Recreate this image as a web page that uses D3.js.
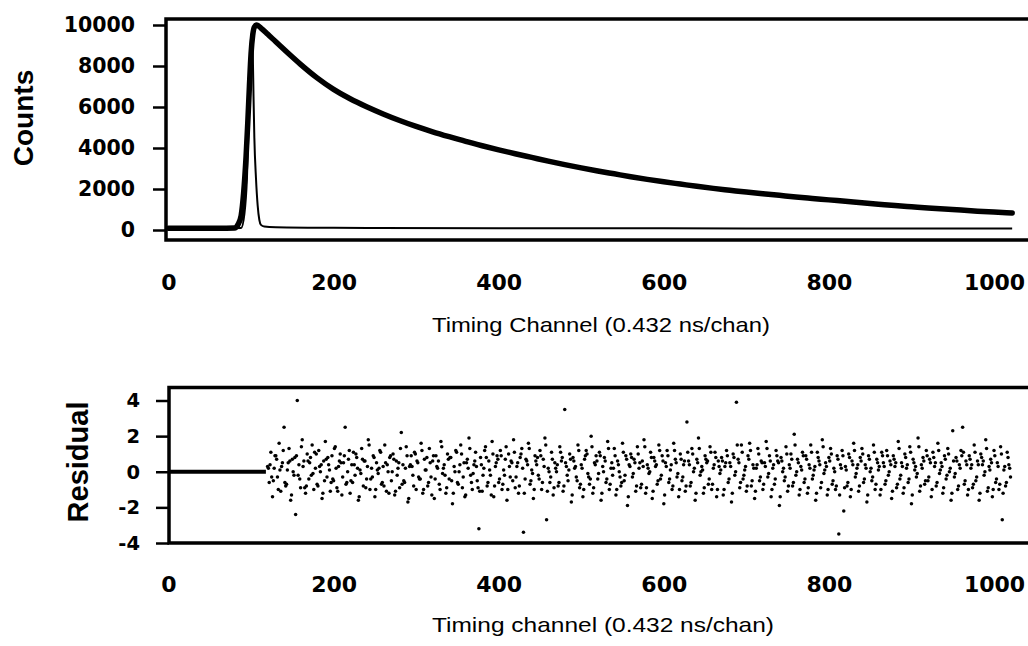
<!DOCTYPE html>
<html>
<head>
<meta charset="utf-8">
<script src="https://cdn.jsdelivr.net/npm/d3@7"></script>
<style>
  body { margin: 0; background: #fff; }
  svg { display: block; }
</style>
</head>
<body>
<div id="chart"></div>
<script>
// Fluorescence decay, counts per timing channel
var decayChannels = [0, 20, 40, 60, 80, 84, 88, 91, 94, 96, 98, 100, 102, 104, 107, 112, 120, 130, 145, 160,
  180, 200, 220, 240, 260, 280, 300, 320, 340, 360, 380, 400, 420, 440, 460, 480, 500, 520, 540, 560,
  580, 600, 620, 640, 660, 680, 700, 720, 740, 760, 780, 800, 820, 840, 860, 880, 900, 920, 940, 960,
  980, 1000, 1022];
var decayCounts = [80, 80, 80, 80, 100, 250, 700, 1800, 3600, 5200, 7000, 8600, 9500, 9900, 10000, 9850, 9560, 9180, 8620, 8080,
  7420, 6860, 6400, 6010, 5660, 5340, 5050, 4790, 4550, 4320, 4110, 3910, 3720, 3540, 3360, 3190, 3030, 2880, 2740, 2600,
  2470, 2350, 2240, 2130, 2030, 1940, 1850, 1770, 1690, 1610, 1540, 1470, 1400, 1330, 1260, 1190, 1130, 1070, 1020, 970,
  920, 875, 830];

// Instrument response (thin trace)
var irfChannels = [0, 88, 92, 95, 97, 99, 100, 101, 102, 103, 104, 106, 108, 110, 112, 116, 130, 200, 400, 600, 800, 1022];
var irfCounts = [20, 100, 800, 2500, 5000, 8000, 9400, 9600, 8800, 6500, 4500, 2500, 1200, 500, 250, 170, 140, 110, 90, 80, 75, 70];

var countTicks = [0, 2000, 4000, 6000, 8000, 10000];
var channelTicks = [0, 200, 400, 600, 800, 1000];
var residualTicks = [-4, -2, 0, 2, 4];

// Weighted residuals on even channels, starting at channel 120
var residualStart = 120;
var residuals = [
  0.3, -0.6, 1.1, -1.4, 0.2, 0.9, -0.3, 1.6, -1.1, 0.5, 2.5, -0.8, 0.1, 1.3, -1.6, 0.7, -0.2, -2.4, 4.0, 0.4, -0.9, 1.8, 0.6, -1.2, 1.0,
  -0.4, 0.8, 1.5, -1.0, 0.2, -0.7, 1.2, 0.0, -1.5, 0.6, 1.7, -0.3, 0.4, -1.1, 0.9, -0.5, 1.4, -0.9, 0.3, 1.0, -1.3, 0.5, 2.5, -0.6, 0.7,
  -1.2, 0.4, 1.1, -0.2, 0.8, -1.6, 0.1, 1.3, -0.8, 0.6, -0.4, 1.8, -1.0, 0.2, 0.9, -1.4, 0.5, -0.1, 1.2, -0.7, 0.3, 1.5, -1.1, 0.0, 0.8,
  -0.5, 1.0, -1.3, 0.6, 0.2, -0.9, 2.2, 0.4, -0.6, 1.4, -1.7, 0.3, 0.9, -0.2, 1.1, -1.0, 0.5, -0.4, 1.6, -1.2, 0.7, 0.1, -0.8, 1.3, -0.3,
  0.6, -1.5, 0.9, 0.2, -0.7, 1.7, -0.1, 0.4, -1.2, 1.0, -0.4, 0.8, -1.8, 0.3, 1.2, -0.6, 0.0, 1.5, -0.9, 0.5, -1.3, 0.7, 1.9, -0.2, -1.0,
  0.4, 1.1, -0.5, -3.2, 0.8, -1.1, 0.2, 1.4, -0.8, 0.6, -0.2, 1.7, -1.4, 0.3, 0.9, -0.6, 1.2, -1.0, 0.1, 0.7, -1.6, 1.0, -0.3, 0.5, 1.8,
  -0.9, 0.3, -1.2, 0.8, 1.3, -3.4, -0.4, 0.6, 1.6, -0.7, 0.1, -1.5, 0.9, 0.4, -0.2, 1.2, -1.0, 0.7, 1.9, -2.7, 0.2, -0.6, 1.1, -1.3, 0.5,
  0.0, -0.8, 1.4, 0.6, -1.1, 3.5, 0.3, -0.5, 1.0, -1.7, 0.8, 0.2, -0.3, 1.5, -0.9, 0.4, -1.4, 0.7, 1.2, -0.1, -0.7, 2.0, -1.2, 0.5, 0.9,
  -0.4, 1.1, -1.6, 0.3, 0.8, -0.6, 1.7, -1.0, 0.2, -0.2, 1.3, -1.3, 0.6, 0.0, -0.8, 1.6, -0.5, 0.9, -1.9, 0.4, 1.0, -0.3, 0.7, -1.1, 1.4,
  0.2, -0.9, 0.6, 1.8, -1.2, 0.4, -0.1, 1.1, -1.5, 0.8, 0.3, -0.7, 1.5, -0.4, 0.9, -1.8, 0.5, 1.2, -0.6, 0.1, -1.0, 1.6, 0.7, -0.3, -1.4,
  1.0, -0.5, 0.4, -1.1, 2.8, 0.6, -0.8, 1.3, 0.0, -1.6, 0.7, 1.9, -0.2, 0.3, -1.2, 0.9, 0.5, -0.7, 1.4, -1.0, 0.2, 1.1, -1.4, 0.6, -0.1,
  0.8, -1.3, 0.3, 1.2, -0.6, 0.5, -1.7, 1.0, -0.2, 3.9, 0.7, -0.9, 1.5, -0.4, 0.1, -1.1, 0.9, 1.6, -0.8, 0.4, -1.5, 0.2, 1.3, -0.5, 0.6,
  -1.0, 0.5, 1.7, -0.3, 0.9, -1.4, 0.2, -0.7, 1.2, 0.6, -1.9, 0.8, 0.0, -0.5, 1.4, -1.1, 0.4, 1.0, -0.8, 2.1, -0.2, 0.7, -1.3, 0.3, 1.1,
  -0.6, 0.9, -1.2, 0.4, 1.5, -0.4, 0.1, -1.6, 1.1, 0.6, -0.9, 1.8, -0.1, 0.5, -1.3, 0.8, 1.3, -0.7, 0.2, -1.0, 0.9, -3.5, 0.4, 1.2, -2.2,
  0.3, -0.8, 1.0, -1.4, 0.6, 1.6, -0.3, 0.2, -1.1, 0.8, 1.3, -0.6, 0.4, -1.7, 0.9, 0.0, -0.5, 1.5, -1.0, 0.7, 0.1, -1.3, 1.1, 0.5, -0.7,
  1.2, -0.2, 0.6, -1.5, 0.9, 0.3, -0.9, 1.7, -0.4, 0.5, -1.2, 1.0, 0.2, -0.6, 1.4, -1.8, 0.7, 0.1, -0.3, 1.9, -1.1, 0.4, 0.8, -0.7, 1.2,
  -0.5, 0.7, -1.4, 1.1, 0.3, -0.8, 1.6, -0.1, 0.5, -1.2, 0.9, -0.4, 1.3, 0.0, -1.6, 2.3, -0.3, 0.8, -1.0, 0.4, 1.2, 2.5, -0.7, 0.6, -1.3,
  0.9, 0.2, -0.9, 1.5, -0.5, 0.6, -1.6, 1.0, 0.4, -0.2, 1.8, -1.1, 0.3, 0.7, -1.4, 1.2, -0.6, 0.5, -1.0, 1.4, -2.7, 0.1, -0.8, 1.1, 0.4,
  -0.3
];
// Weighted residuals on odd channels, starting at channel 121
var residualsOdd = [
  0.2, 0.4, -0.3, -0.5, 0.9, 0.7, -1.0, 0.1, 0.3, 1.2, -0.6, -0.7, 0.5, 0.6, -1.3, 0.0, 0.8, 0.9, -0.2, -0.4, 1.4, 0.3, -0.9, -0.8, 0.6,
  0.5, -0.2, -0.1, 1.1, 1.0, -0.8, 0.3, 0.4, -1.2, -0.5, 0.7, 0.8, 0.1, -0.6, -0.4, 1.3, 0.2, -1.1, 0.6, 0.5, -0.3, 0.9, -0.7, 0.0, 1.2,
  -0.5, -0.6, 0.4, 1.0, 0.2, -1.4, -0.1, 0.7, 0.6, -0.9, 0.3, 1.5, -0.4, -0.3, 0.8, -1.0, 0.1, 0.2, 1.1, -0.6, -0.8, 0.5, 0.4, -1.2, 0.9,
  0.0, 0.7, -1.1, -0.2, 0.5, 1.3, -0.7, -0.5, 0.2, 0.9, -1.5, 0.4, 0.3, -0.8, 1.0, 0.6, -0.3, -0.4, 1.2, -1.0, 0.1, 0.8, -0.6, 0.5, -1.3,
  0.9, -0.4, 0.3, 0.6, -1.0, 1.4, 0.2, -0.2, -0.9, 0.7, 0.8, -0.5, -1.2, 0.0, 1.1, -0.7, 0.4, 1.0, -0.3, -1.4, 0.5, 0.2, 1.3, -0.6, -0.1,
  0.6, 0.3, -0.9, -1.1, 0.4, -0.2, 1.2, 0.8, -0.6, 0.1, -1.3, 1.0, -0.8, 0.5, 0.7, -0.4, 0.9, -0.7, -0.2, 1.4, -1.0, 0.3, 0.6, -0.5, 1.1,
  -0.3, 0.5, -0.8, 1.0, 0.2, -1.2, 0.7, 0.4, 1.3, -0.5, -0.1, -1.0, 0.6, 0.8, -0.4, 0.9, -0.6, 0.3, 1.5, -1.1, 0.0, -0.3, 0.7, -0.9, 0.2,
  0.4, -0.6, 1.1, 0.8, -0.8, 0.5, -0.2, 0.1, 0.7, -1.3, 0.6, 0.3, -0.5, 1.2, -0.7, 0.2, -1.0, 0.9, 1.0, -0.3, -0.4, 1.4, -0.9, 0.4, 0.6,
  -0.1, 0.9, -1.2, 0.0, 0.6, -0.4, 1.3, -0.7, 0.5, 0.2, 0.9, -1.0, 0.4, -0.3, -0.6, 1.1, -0.2, 0.7, -1.4, 0.3, 0.8, -0.1, 0.5, -0.8, 1.0,
  0.5, -0.7, 0.3, 1.4, -0.9, 0.2, 0.0, 0.8, -1.1, 0.6, 0.4, -0.5, 1.2, -0.2, 0.6, -1.3, 0.3, 0.9, -0.4, 0.4, -0.8, 1.2, 0.5, -0.1, -1.0,
  0.7, -0.3, 0.6, -0.8, 1.1, 0.4, -0.6, 1.0, 0.2, -1.2, 0.5, 1.3, 0.0, 0.1, -0.9, 0.7, 0.6, -0.4, 1.1, -0.7, 0.4, 0.8, -1.0, 0.3, 0.1,
  0.6, -1.0, 0.5, 0.9, -0.4, 0.3, -1.2, 0.8, 0.0, 1.5, 0.5, -0.6, 1.1, -0.2, 0.3, -0.8, 0.7, 1.2, -0.5, 0.2, -1.1, 0.4, 1.0, -0.3, 0.5,
  -0.7, 0.3, 1.3, -0.1, 0.6, -1.0, 0.4, -0.4, 0.9, 0.5, -1.4, 0.6, 0.2, -0.3, 1.0, -0.8, 0.2, 0.7, -0.6, 1.5, 0.0, 0.5, -1.0, 0.1, 0.9,
  -0.4, 0.7, -0.9, 0.2, 1.1, -0.2, 0.3, -1.2, 0.8, 0.4, -0.6, 1.4, 0.1, 0.3, -1.0, 0.6, 1.0, -0.5, 0.0, -0.8, 0.7, -1.3, 0.2, 0.9, -0.9,
  0.1, -0.6, 0.8, -1.0, 0.4, 1.2, -0.1, 0.4, -0.8, 0.6, 1.0, -0.4, 0.2, -1.3, 0.7, 0.2, -0.3, 1.1, -0.7, 0.5, 0.3, -1.0, 0.9, 0.3, -0.5,
  0.9, 0.0, 0.4, -1.1, 0.7, 0.5, -0.7, 1.3, -0.2, 0.3, -0.9, 0.8, 0.4, -0.4, 1.1, -1.3, 0.5, 0.3, -0.1, 1.4, -0.8, 0.2, 0.6, -0.5, 0.9,
  -0.3, 0.5, -1.0, 0.8, 0.5, -0.6, 1.2, 0.1, 0.3, -0.9, 0.7, -0.2, 1.0, 0.2, -1.2, 0.6, -0.1, 0.6, -0.8, 0.2, 0.9, 1.1, -0.5, 0.4, -1.0,
  0.7, 0.4, -0.7, 1.1, -0.3, 0.4, -1.2, 0.8, 0.6, 0.0, 1.3, -0.9, 0.1, 0.5, -1.0, 0.9, -0.4, 0.3, -0.7, 1.0, -1.2, 0.3, -0.6, 0.8, 0.2
];
// residual is held at zero before the fit range
var flatChannels = [0, 118];

var width = 1028, height = 646;
var tickFont = "'DejaVu Sans', sans-serif";
var labelFont = "'Liberation Sans', Arial, sans-serif";
var plainNumber = function (d) { return String(d); }; // hyphen minus, no thousands comma

var svg = d3.select("#chart")
  .append("svg")
  .attr("width", width)
  .attr("height", height)
  .style("background", "#fff");

// shared channel scale
var x = d3.scaleLinear().domain([0, 1000]).range([168.5, 994]);
var yCounts = d3.scaleLinear().domain([0, 10000]).range([230, 25]);
var yResid = d3.scaleLinear().domain([-4, 4]).range([543, 400.5]);

function styleTicks(g, size) {
  g.selectAll("text")
    .style("font-family", tickFont)
    .style("font-weight", "bold")
    .style("font-size", size)
    .attr("fill", "#000");
}

// ---------- top panel ----------
svg.append("path")
  .attr("d", "M" + (width + 5) + ",19H166V240H" + (width + 5))
  .attr("fill", "none")
  .attr("stroke", "#000")
  .attr("stroke-width", 3.5);

var yAxisTop = svg.append("g")
  .attr("transform", "translate(166,0)")
  .call(d3.axisLeft(yCounts).tickValues(countTicks).tickSize(13).tickPadding(18).tickFormat(plainNumber));
yAxisTop.select(".domain").remove();
yAxisTop.selectAll("line").attr("stroke-width", 2.5);
styleTicks(yAxisTop, "20.5px");

var xAxisTop = svg.append("g")
  .attr("transform", "translate(0,274)")
  .call(d3.axisBottom(x).tickValues(channelTicks).tickSize(0).tickPadding(0).tickFormat(plainNumber));
xAxisTop.select(".domain").remove();
styleTicks(xAxisTop, "22px");

var line = d3.line()
  .x(function (d) { return x(d[0]); })
  .y(function (d) { return yCounts(d[1]); })
  .curve(d3.curveMonotoneX);

// instrument response
svg.append("path")
  .datum(irfChannels.map(function (c, i) { return [c, irfCounts[i]]; }))
  .attr("d", line)
  .attr("fill", "none")
  .attr("stroke", "#000")
  .attr("stroke-width", 2);

// measured decay
svg.append("path")
  .datum(decayChannels.map(function (c, i) { return [c, decayCounts[i]]; }))
  .attr("d", line)
  .attr("fill", "none")
  .attr("stroke", "#000")
  .attr("stroke-width", 5.5)
  .attr("stroke-linecap", "round")
  .attr("stroke-linejoin", "round");

svg.append("text")
  .attr("transform", "translate(33,118) rotate(-90)")
  .attr("text-anchor", "middle")
  .style("font-family", labelFont)
  .style("font-weight", "bold")
  .style("font-size", "28px")
  .text("Counts");

svg.append("text")
  .attr("x", 601)
  .attr("y", 332)
  .attr("text-anchor", "middle")
  .attr("textLength", 338)
  .attr("lengthAdjust", "spacingAndGlyphs")
  .style("font-family", labelFont)
  .style("font-size", "21px")
  .text("Timing Channel (0.432 ns/chan)");

// ---------- residual panel ----------
svg.append("path")
  .attr("d", "M" + (width + 5) + ",387.5H169V543H" + (width + 5))
  .attr("fill", "none")
  .attr("stroke", "#000")
  .attr("stroke-width", 3.5);

var yAxisBot = svg.append("g")
  .attr("transform", "translate(169,0)")
  .call(d3.axisLeft(yResid).tickValues(residualTicks).tickSize(13).tickPadding(16).tickFormat(plainNumber));
yAxisBot.select(".domain").remove();
yAxisBot.selectAll("line").attr("stroke-width", 2.5);
styleTicks(yAxisBot, "19.5px");

var xAxisBot = svg.append("g")
  .attr("transform", "translate(0,576)")
  .call(d3.axisBottom(x).tickValues(channelTicks).tickSize(0).tickPadding(0).tickFormat(plainNumber));
xAxisBot.select(".domain").remove();
styleTicks(xAxisBot, "22px");

// flat zero segment before the fit window
svg.append("path")
  .datum(flatChannels)
  .attr("d", d3.line().x(function (d) { return x(d); }).y(function () { return yResid(0); }))
  .attr("stroke", "#000")
  .attr("stroke-width", 4);

var resPoints = residuals.map(function (r, i) { return [residualStart + i * 2, r]; })
  .concat(residualsOdd.map(function (r, i) { return [residualStart + 1 + i * 2, r]; }));

svg.selectAll("circle.res")
  .data(resPoints)
  .enter().append("circle")
  .attr("class", "res")
  .attr("cx", function (d) { return x(d[0]); })
  .attr("cy", function (d) { return yResid(d[1]); })
  .attr("r", 1.75)
  .attr("fill", "#000");

svg.append("text")
  .attr("transform", "translate(88,462) rotate(-90)")
  .attr("text-anchor", "middle")
  .style("font-family", labelFont)
  .style("font-weight", "bold")
  .style("font-size", "29px")
  .text("Residual");

svg.append("text")
  .attr("x", 603)
  .attr("y", 632)
  .attr("text-anchor", "middle")
  .attr("textLength", 342)
  .attr("lengthAdjust", "spacingAndGlyphs")
  .style("font-family", labelFont)
  .style("font-size", "21px")
  .text("Timing channel (0.432 ns/chan)");
</script>
</body>
</html>
